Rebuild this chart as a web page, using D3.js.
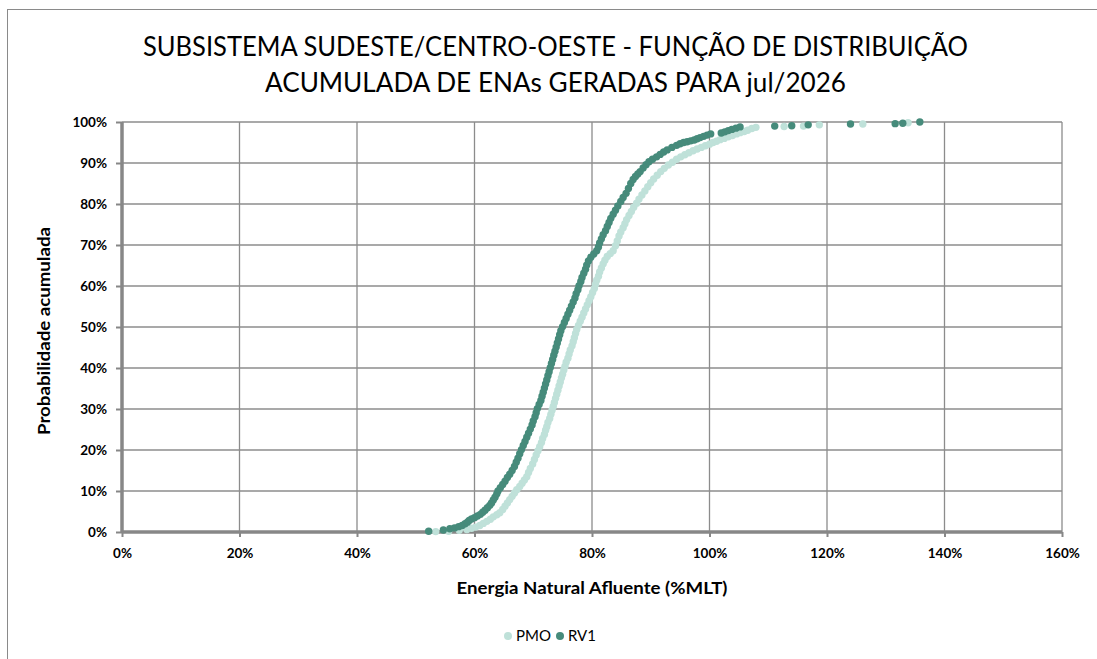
<!DOCTYPE html>
<html>
<head>
<meta charset="utf-8">
<script src="https://cdn.jsdelivr.net/npm/d3@7"></script>
<style>
    body { margin: 0; background: #fff; }
    svg { display: block; font-family: Lato, "Open Sans", sans-serif; }
</style>
</head>
<body>
<svg id="chart" width="1097" height="659"></svg>
<script>
const titleLines = [
    "SUBSISTEMA SUDESTE/CENTRO-OESTE - FUNÇÃO DE DISTRIBUIÇÃO",
    "ACUMULADA DE ENAs GERADAS PARA jul/2026",
]
const xTicks = [0, 0.2, 0.4, 0.6, 0.8, 1.0, 1.2, 1.4, 1.6]
const yTicks = [0, 0.1, 0.2, 0.3, 0.4, 0.5, 0.6, 0.7, 0.8, 0.9, 1.0]
const seriesNames = ["PMO", "RV1"]

// [ENA %MLT, probabilidade acumulada %]
const pmoPoints = [
    [53.4, 0.1], [55.6, 0.2], [57.4, 0.4], [58.7, 0.6], [59.5, 0.9], [60.2, 1.2], [60.9, 1.6], [61.5, 2.1],
    [62.1, 2.6], [62.7, 3.1], [63.2, 3.7], [63.8, 4.2], [64.3, 4.7], [64.8, 5.5], [65.2, 6.3], [65.6, 7.1],
    [66.0, 7.9], [66.4, 8.7], [66.8, 9.5], [67.2, 10.3], [67.7, 11.1], [68.1, 11.9], [68.5, 12.7], [68.9, 13.5],
    [69.2, 14.5], [69.5, 15.5], [69.9, 16.6], [70.2, 17.7], [70.5, 18.8], [70.8, 19.8], [71.1, 20.8], [71.4, 21.8],
    [71.6, 22.8], [71.9, 23.8], [72.1, 24.8], [72.3, 25.7], [72.5, 26.7], [72.8, 27.7], [73.0, 28.7], [73.2, 29.7],
    [73.4, 30.6], [73.6, 31.6], [73.8, 32.6], [74.0, 33.6], [74.2, 34.6], [74.4, 35.6], [74.6, 36.6], [74.8, 37.6],
    [75.0, 38.5], [75.2, 39.5], [75.4, 40.4], [75.6, 41.4], [75.9, 42.4], [76.1, 43.4], [76.3, 44.4], [76.6, 45.4],
    [76.8, 46.4], [77.0, 47.4], [77.2, 48.4], [77.4, 49.4], [77.7, 50.4], [78.0, 51.4], [78.3, 52.4], [78.6, 53.4],
    [78.9, 54.4], [79.2, 55.4], [79.5, 56.4], [79.8, 57.4], [80.1, 58.4], [80.4, 59.4], [80.6, 60.4], [80.8, 61.4],
    [81.1, 62.4], [81.3, 63.4], [81.6, 64.4], [81.9, 65.4], [82.2, 66.3], [82.6, 67.2], [83.1, 67.9], [83.6, 68.6],
    [84.0, 69.8], [84.3, 71.0], [84.6, 72.2], [84.9, 73.2], [85.3, 74.2], [85.6, 75.2], [85.9, 76.2], [86.3, 77.2],
    [86.7, 78.2], [87.1, 79.2], [87.6, 80.2], [88.0, 81.2], [88.5, 82.2], [89.0, 83.2], [89.5, 84.2], [90.0, 85.2],
    [90.5, 86.1], [91.1, 87.0], [91.7, 87.9], [92.3, 88.7], [93.0, 89.5], [93.7, 90.2], [94.4, 90.9], [95.1, 91.5],
    [95.8, 92.0], [96.5, 92.5], [97.2, 93.0], [97.9, 93.4], [98.6, 93.8], [99.3, 94.2], [100.0, 94.6], [100.6, 95.0],
    [101.2, 95.3], [101.8, 95.7], [102.5, 96.0], [103.2, 96.4], [103.9, 96.7], [104.6, 97.1], [105.2, 97.4], [105.9, 97.7],
    [106.5, 98.0], [107.2, 98.4], [107.9, 98.7],
    [112.7, 98.9], [116.0, 99.0], [118.7, 99.3], [126.1, 99.5], [133.8, 99.8],
]

const rv1Points = [
    [52.2, 0.2], [54.7, 0.5], [55.8, 0.8], [56.6, 1.0], [57.3, 1.3], [57.9, 1.6], [58.4, 2.0], [58.8, 2.4],
    [59.1, 2.8], [59.5, 3.2], [60.0, 3.5], [60.5, 3.9], [61.0, 4.3], [61.4, 4.8], [61.8, 5.3], [62.2, 5.9],
    [62.6, 6.5], [62.9, 7.1], [63.2, 7.8], [63.5, 8.5], [63.8, 9.3], [64.0, 10.0], [64.4, 10.8], [64.8, 11.6],
    [65.2, 12.4], [65.6, 13.3], [66.0, 14.1], [66.4, 15.0], [66.8, 16.0], [67.1, 17.0], [67.4, 18.0], [67.7, 19.1],
    [68.0, 20.1], [68.3, 21.1], [68.6, 22.1], [68.9, 23.1], [69.2, 24.1], [69.5, 25.1], [69.8, 26.1], [70.0, 27.1],
    [70.3, 28.1], [70.5, 29.1], [70.7, 30.1], [71.0, 31.1], [71.3, 32.1], [71.5, 33.1], [71.7, 34.1], [71.9, 35.1],
    [72.1, 36.1], [72.3, 37.1], [72.5, 38.1], [72.7, 39.1], [72.9, 40.1], [73.1, 41.1], [73.3, 42.1], [73.5, 43.1],
    [73.7, 44.1], [73.9, 45.1], [74.1, 46.1], [74.3, 47.1], [74.5, 48.1], [74.7, 49.1], [75.0, 50.1], [75.3, 51.1],
    [75.6, 52.1], [75.9, 53.1], [76.2, 54.1], [76.5, 55.1], [76.8, 56.1], [77.1, 57.1], [77.3, 58.1], [77.6, 59.1],
    [77.8, 60.1], [78.1, 61.1], [78.3, 62.1], [78.6, 63.1], [78.9, 64.1], [79.1, 65.1], [79.4, 66.1], [79.8, 67.0],
    [80.3, 67.8], [80.8, 68.6], [81.1, 69.5], [81.3, 70.5], [81.6, 71.5], [81.9, 72.5], [82.3, 73.5], [82.6, 74.5],
    [82.9, 75.5], [83.2, 76.5], [83.6, 77.5], [84.0, 78.5], [84.4, 79.5], [84.9, 80.6], [85.3, 81.6], [85.8, 82.6],
    [86.2, 83.8], [86.6, 85.0], [87.0, 86.0], [87.4, 86.7], [87.8, 87.3], [88.2, 87.9], [88.7, 88.8], [89.2, 89.6],
    [89.7, 90.3], [90.3, 90.9], [91.0, 91.5], [91.6, 92.1], [92.2, 92.7], [92.8, 93.2], [93.6, 93.8], [94.4, 94.3],
    [95.0, 94.7], [95.6, 95.0], [96.2, 95.2], [96.8, 95.4], [97.4, 95.6], [97.9, 95.9], [98.4, 96.2], [99.0, 96.5],
    [99.6, 96.8], [100.2, 97.1],
    [102.0, 97.3], [102.6, 97.6], [103.2, 97.9], [103.8, 98.2], [104.5, 98.5], [105.2, 98.8],
    [111.1, 99.0], [114.0, 99.1], [116.8, 99.3], [124.0, 99.5], [131.6, 99.6], [132.9, 99.7], [135.8, 100.0],
]

const colors = {PMO: "#bfe1d9", RV1: "#468b7b"}
const grid = "#8c8c8c"

const width = 1097
const height = 659
const plot = {left: 122, right: 1062, top: 122, bottom: 532}

const svg = d3.select("#chart")

const xScale = d3.scaleLinear([0, 1.6], [plot.left, plot.right])
const yScale = d3.scaleLinear([0, 1], [plot.bottom, plot.top])
const pct = d3.format(".0%")

// moldura do gráfico
svg.append("rect")
    .attr("x", 7.5).attr("y", 9.5)
    .attr("width", width + 10).attr("height", height + 10)
    .attr("fill", "none")
    .attr("stroke", "#8a8a8a")
    .attr("stroke-width", 1)

// titulo
const titleWidths = [825, 581]
svg.append("g")
    .selectAll("text")
    .data(titleLines)
    .join("text")
    .attr("x", 555.5)
    .attr("y", (d, i) => 56 + i * 36)
    .attr("text-anchor", "middle")
    .attr("textLength", (d, i) => titleWidths[i])
    .attr("lengthAdjust", "spacingAndGlyphs")
    .style("font-size", "26px")
    .style("fill", "#000")
    .text(d => d)

// grades
svg.append("g")
    .attr("stroke", grid)
    .attr("stroke-width", 1.3)
    .call(g => g.selectAll("line.h")
        .data(yTicks.slice(1))
        .join("line")
        .attr("class", "h")
        .attr("x1", plot.left).attr("x2", plot.right)
        .attr("y1", d => yScale(d)).attr("y2", d => yScale(d)))
    .call(g => g.selectAll("line.v")
        .data(xTicks.slice(1))
        .join("line")
        .attr("class", "v")
        .attr("x1", d => xScale(d)).attr("x2", d => xScale(d))
        .attr("y1", plot.top).attr("y2", plot.bottom))

// eixos
const xAxis = d3.axisBottom(xScale).tickValues(xTicks).tickFormat(pct).tickSize(5).tickPadding(11)
const yAxis = d3.axisLeft(yScale).tickValues(yTicks).tickFormat(pct).tickSize(6).tickPadding(9)

const xAxisGroup = svg.append("g")
    .attr("transform", `translate(0, ${plot.bottom})`)
    .call(xAxis)

const yAxisGroup = svg.append("g")
    .attr("transform", `translate(${plot.left}, 0)`)
    .call(yAxis)

for (const g of [xAxisGroup, yAxisGroup]) {
    g.attr("font-family", "Lato, sans-serif").attr("font-size", 13.5).attr("font-weight", "bold")
    g.select(".domain").attr("stroke", "#878787").attr("stroke-width", 3.5)
    g.selectAll(".tick line").attr("stroke", "#878787").attr("stroke-width", 2)
    g.selectAll(".tick text").attr("fill", "#000")
}
xAxisGroup.select(".domain").attr("d", `M${plot.left},0H${plot.right}`)
yAxisGroup.select(".domain").attr("d", `M0,${plot.top}V${plot.bottom}`)

// titulos dos eixos
svg.append("text")
    .attr("x", 592)
    .attr("y", 594)
    .attr("text-anchor", "middle")
    .attr("textLength", 271)
    .attr("lengthAdjust", "spacingAndGlyphs")
    .style("font-size", "17px")
    .style("font-weight", "bold")
    .text("Energia Natural Afluente (%MLT)")

svg.append("text")
    .attr("transform", "translate(50, 331) rotate(-90)")
    .attr("text-anchor", "middle")
    .attr("textLength", 208)
    .attr("lengthAdjust", "spacingAndGlyphs")
    .style("font-size", "17px")
    .style("font-weight", "bold")
    .text("Probabilidade acumulada")

// pontos
const series = [
    {name: seriesNames[0], points: pmoPoints},
    {name: seriesNames[1], points: rv1Points},
]

svg.append("g")
    .selectAll("g")
    .data(series)
    .join("g")
    .attr("fill", d => colors[d.name])
    .selectAll("circle")
    .data(d => d.points)
    .join("circle")
    .attr("cx", d => xScale(d[0] / 100))
    .attr("cy", d => yScale(d[1] / 100))
    .attr("r", 3.7)

// legenda
const legend = svg.append("g")
    .attr("transform", "translate(508, 636)")

const legendItems = legend.selectAll("g")
    .data(seriesNames)
    .join("g")
    .attr("transform", (d, i) => `translate(${i * 52}, 0)`)

legendItems.append("circle")
    .attr("r", 4)
    .attr("fill", d => colors[d])

legendItems.append("text")
    .attr("x", 8)
    .attr("dy", "0.35em")
    .style("font-size", "15px")
    .text(d => d)
</script>
</body>
</html>
